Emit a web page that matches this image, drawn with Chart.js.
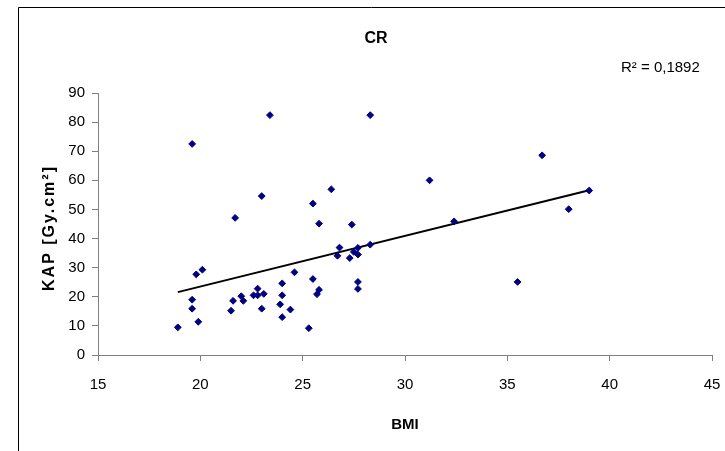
<!DOCTYPE html>
<html lang="en">
<head>
    <meta charset="UTF-8">
    <title>CR - KAP vs BMI</title>
    <script src="https://cdn.jsdelivr.net/npm/chart.js"></script>
    <style>
        body {
            margin: 0;
            background-color: #ffffff;
        }
        canvas {
            display: block;
        }
    </style>
</head>
<body>
    <canvas id="kapChart" width="725" height="451"></canvas>

    <script>
        // BMI / KAP pairs for the CR group
        const bmi = [18.9, 19.6, 19.6, 19.6, 19.8, 20.1, 19.9, 21.7, 21.5, 21.6,
                     22.0, 22.1, 23.0, 23.4, 22.6, 22.8, 22.8, 23.0, 23.1, 23.9,
                     24.0, 24.0, 24.0, 24.4, 24.6, 25.3, 25.5, 25.5, 25.8, 25.7,
                     25.8, 26.4, 26.8, 26.7, 27.4, 27.3, 27.5, 27.7, 27.7, 27.7,
                     27.7, 28.3, 28.3, 31.2, 32.4, 36.7, 39.0, 38.0, 35.5];
        const kap = [9.5, 72.5, 19.0, 15.9, 27.7, 29.3, 11.4, 47.1, 15.2, 18.6,
                     20.2, 18.6, 54.6, 82.4, 20.5, 22.8, 20.5, 15.9, 21.0, 17.4,
                     24.6, 20.5, 13.0, 15.6, 28.4, 9.2, 52.0, 26.1, 45.1, 20.9,
                     22.4, 56.9, 36.9, 34.1, 44.8, 33.3, 35.4, 36.8, 34.5, 25.1,
                     22.7, 82.4, 37.9, 60.0, 45.9, 68.6, 56.5, 50.1, 25.1];

        // linear trend line ends
        const trendX = [18.9, 39.0];
        const trendY = [21.6, 56.6];
        const rSquared = '0,1892';

        const chartTitle = 'CR';
        const xTitle = 'BMI';
        const yTitle = 'KAP [Gy.cm\u00B2]';

        const fontFamily = '"Liberation Sans", Arial, sans-serif';
        const axisGray = '#808080';

        const points = bmi.map((b, i) => ({ x: b, y: kap[i] }));
        const trend = trendX.map((t, i) => ({ x: t, y: trendY[i] }));

        // white page, frame and free text (title, R², spaced y title)
        const framePlugin = {
            id: 'frame',
            beforeDraw(chart) {
                const c = chart.ctx;
                c.save();
                c.fillStyle = '#ffffff';
                c.fillRect(0, 0, chart.width, chart.height);
                c.strokeStyle = '#000000';
                c.lineWidth = 1;
                c.beginPath();
                c.moveTo(18.5, chart.height);
                c.lineTo(18.5, 7.5);
                c.lineTo(chart.width, 7.5);
                c.stroke();
                c.restore();
            },
            afterDraw(chart) {
                const c = chart.ctx;
                const area = chart.chartArea;
                c.save();
                c.fillStyle = '#000000';
                c.textAlign = 'center';
                c.textBaseline = 'alphabetic';
                c.font = 'bold 16px ' + fontFamily;
                c.fillText(chartTitle, 376, 43);
                c.textAlign = 'left';
                c.font = '15px ' + fontFamily;
                c.fillText('R\u00B2 = ' + rSquared, 621, 72);

                // y axis title, rotated, with wider letter spacing
                c.translate(50, (area.top + area.bottom) / 2 + 4);
                c.rotate(-Math.PI / 2);
                c.textAlign = 'center';
                c.textBaseline = 'middle';
                c.font = 'bold 16px ' + fontFamily;
                c.letterSpacing = '2px';
                c.fillText(yTitle, 0, 0);
                c.restore();
            }
        };

        const ctx = document.getElementById('kapChart').getContext('2d');
        const kapChart = new Chart(ctx, {
            type: 'scatter',
            data: {
                datasets: [{
                    label: 'KAP',
                    data: points,
                    pointStyle: 'rectRot',
                    pointRadius: 3.4,
                    pointBackgroundColor: '#000080',
                    pointBorderColor: '#000080',
                    pointBorderWidth: 1,
                    order: 1
                }, {
                    label: 'Trend',
                    type: 'line',
                    data: trend,
                    borderColor: '#000000',
                    borderWidth: 2,
                    pointRadius: 0,
                    fill: false,
                    order: 2
                }]
            },
            options: {
                responsive: false,
                animation: false,
                devicePixelRatio: 1,
                layout: {
                    padding: { left: 0, top: 93, right: 13, bottom: 0 }
                },
                plugins: {
                    legend: { display: false },
                    tooltip: { enabled: false }
                },
                scales: {
                    x: {
                        type: 'linear',
                        min: 15,
                        max: 45,
                        afterFit(scale) {
                            scale.height = 96;
                            // the layout padding already leaves room for "45"
                            scale.paddingLeft = 0;
                            scale.paddingRight = 0;
                        },
                        ticks: {
                            stepSize: 5,
                            color: '#000000',
                            padding: 15,
                            font: { family: fontFamily, size: 15 }
                        },
                        grid: {
                            drawOnChartArea: false,
                            drawTicks: true,
                            tickLength: 6,
                            tickColor: axisGray
                        },
                        border: { color: axisGray, width: 1 },
                        title: {
                            display: true,
                            text: xTitle,
                            color: '#000000',
                            padding: { top: 0, bottom: 17 },
                            font: { family: fontFamily, size: 15, weight: 'bold' }
                        }
                    },
                    y: {
                        type: 'linear',
                        min: 0,
                        max: 90,
                        afterFit(scale) { scale.width = 98; },
                        ticks: {
                            stepSize: 10,
                            color: '#000000',
                            padding: 7,
                            font: { family: fontFamily, size: 15 }
                        },
                        grid: {
                            drawOnChartArea: false,
                            drawTicks: true,
                            tickLength: 6,
                            tickColor: axisGray
                        },
                        border: { color: axisGray, width: 1 },
                        title: { display: false }
                    }
                }
            },
            plugins: [framePlugin]
        });
    </script>
</body>
</html>
